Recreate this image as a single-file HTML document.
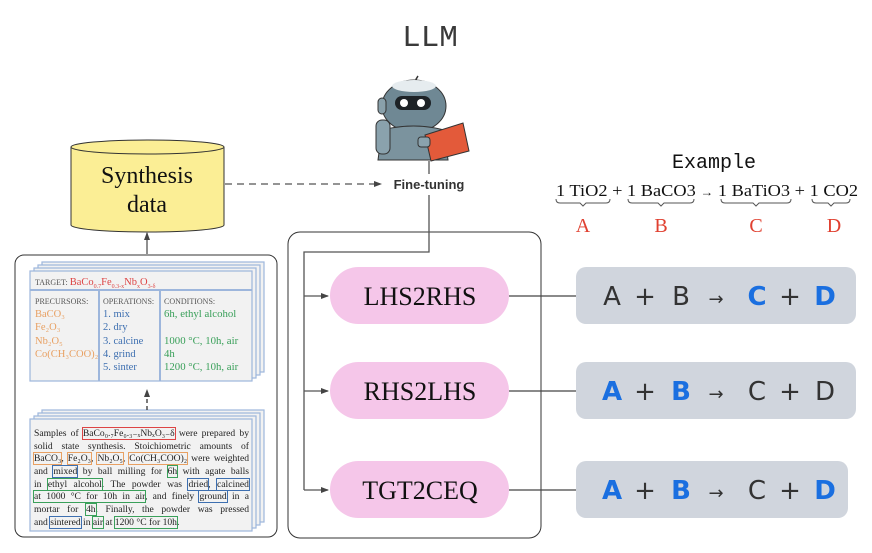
<!DOCTYPE html>
<html><head><meta charset="utf-8"><style>
body{margin:0;background:#fff;position:relative;width:872px;height:553px;overflow:hidden}
svg{display:block;position:absolute;left:0;top:0}
.ln{position:absolute;left:34px;width:215px;font-family:"Liberation Serif",serif;font-size:9.6px;line-height:12.7px;color:#222;text-align:justify;text-align-last:justify;white-space:nowrap}
.ln div{height:12.7px}
.r{outline:1px solid #d44;}
.o{outline:1px solid #e8a062;}
.b{outline:1px solid #3d6fb0;}
.g{outline:1px solid #3aa05a;}
.tc{position:absolute;font-family:"Liberation Serif",serif;font-size:10.5px;line-height:13.2px}
.h{font-size:8px;color:#555}
</style></head><body>
<svg width="872" height="553" viewBox="0 0 872 553" xmlns="http://www.w3.org/2000/svg">
<defs>
<marker id="ar" markerWidth="8" markerHeight="8" refX="7" refY="4" orient="auto" markerUnits="userSpaceOnUse"><path d="M0,1 L8,4 L0,7 z" fill="#444"/></marker>
</defs>
<text x="430" y="46" text-anchor="middle" font-family="Liberation Mono, monospace" font-size="31" fill="#3a3a3a">LLM</text>
<g>
<path d="M418,76 q-4,5 -3,14" stroke="#333" fill="none" stroke-width="1.5"/>
<ellipse cx="414" cy="106" rx="32" ry="26" fill="#6f8894" stroke="#333"/>
<ellipse cx="414" cy="86" rx="22" ry="6" fill="#e6ecef"/>
<rect x="378" y="98" width="8" height="16" rx="4" fill="#89a0aa" stroke="#333"/>
<rect x="395" y="96" width="36" height="14" rx="7" fill="#1d2226"/>
<circle cx="404" cy="103" r="4" fill="#fff"/><circle cx="421" cy="103" r="4" fill="#fff"/>
<path d="M382,130 q32,-8 62,0 l4,30 h-70 z" fill="#7b939e" stroke="#333"/>
<rect x="376" y="120" width="14" height="34" rx="6" fill="#8aa2ad" stroke="#333"/>
<path d="M425,135 l38,-12 l6,28 l-38,10 z" fill="#e35a3a" stroke="#333"/>
<rect x="418" y="137" width="12" height="10" rx="3" fill="#8aa2ad" stroke="#333"/>
</g>
<line x1="429" y1="161" x2="429" y2="174" stroke="#555" stroke-width="1.3"/>
<text x="429" y="189" text-anchor="middle" font-family="Liberation Sans, sans-serif" font-weight="bold" font-size="13" fill="#333">Fine-tuning</text>
<line x1="225" y1="184" x2="381" y2="184" stroke="#555" stroke-width="1.3" stroke-dasharray="7,5" marker-end="url(#ar)"/>
<path d="M71,147 v78 a76.5,7 0 0 0 153,0 v-78" fill="#fbee95" stroke="#333"/>
<ellipse cx="147.5" cy="147" rx="76.5" ry="7" fill="#fbee95" stroke="#333"/>
<text x="147" y="183" text-anchor="middle" font-family="Liberation Serif, serif" font-size="24" fill="#111">Synthesis</text>
<text x="147" y="212" text-anchor="middle" font-family="Liberation Serif, serif" font-size="24" fill="#111">data</text>
<line x1="147" y1="254" x2="147" y2="233" stroke="#555" stroke-width="1.3" marker-end="url(#ar)"/>
<rect x="15" y="255" width="262" height="282" rx="9" fill="#fff" stroke="#333"/>
<g fill="#f2f2f2" stroke="#9db6dc" stroke-width="1.2">
<rect x="42" y="262" width="222" height="110"/><rect x="38" y="265" width="222" height="110"/><rect x="34" y="268" width="222" height="110"/><rect x="30" y="271" width="222" height="110"/>
<rect x="42" y="410" width="222" height="112"/><rect x="38" y="413" width="222" height="112"/><rect x="34" y="416" width="222" height="112"/><rect x="30" y="419" width="222" height="112"/>
</g>
<line x1="30" y1="290" x2="252" y2="290" stroke="#9db6dc" stroke-width="2"/>
<line x1="99" y1="290" x2="99" y2="381" stroke="#9db6dc" stroke-width="2"/>
<line x1="160" y1="290" x2="160" y2="381" stroke="#9db6dc" stroke-width="2"/>
<line x1="147" y1="410" x2="147" y2="390" stroke="#333" stroke-width="1.3" stroke-dasharray="4,3" marker-end="url(#ar)"/>
<rect x="288" y="232" width="253" height="306" rx="12" fill="none" stroke="#333"/>
<polyline points="429,195 429,252 304,252 304,490" fill="none" stroke="#555" stroke-width="1.3"/>
<line x1="304" y1="296" x2="328" y2="296" stroke="#555" stroke-width="1.3" marker-end="url(#ar)"/>
<line x1="304" y1="391" x2="328" y2="391" stroke="#555" stroke-width="1.3" marker-end="url(#ar)"/>
<line x1="304" y1="490" x2="328" y2="490" stroke="#555" stroke-width="1.3" marker-end="url(#ar)"/>
<g fill="#f5c6e9">
<rect x="330" y="267" width="179" height="57" rx="28.5"/>
<rect x="330" y="362" width="179" height="57" rx="28.5"/>
<rect x="330" y="461" width="179" height="57" rx="28.5"/>
</g>
<g font-family="Liberation Serif, serif" font-size="26" fill="#111" text-anchor="middle">
<text x="420" y="305">LHS2RHS</text><text x="420" y="400">RHS2LHS</text><text x="420" y="499">TGT2CEQ</text>
</g>
<g stroke="#444" stroke-width="1.3">
<line x1="509" y1="296" x2="576" y2="296"/><line x1="509" y1="391" x2="576" y2="391"/><line x1="509" y1="490" x2="576" y2="490"/>
</g>
<g fill="#d0d5dd">
<rect x="576" y="267" width="280" height="57" rx="10"/>
<rect x="576" y="362" width="280" height="57" rx="10"/>
<rect x="576" y="461" width="272" height="57" rx="10"/>
</g>
<g font-family="DejaVu Sans, sans-serif" font-size="26" text-anchor="middle">
<g transform="translate(0,305)"><text x="612" fill="#333">A</text><text x="645" fill="#333">+</text><text x="681" fill="#333">B</text><text x="716" fill="#333" font-size="18">→</text><text x="757" fill="#1a6fe0" font-weight="bold">C</text><text x="790" fill="#333">+</text><text x="825" fill="#1a6fe0" font-weight="bold">D</text></g>
<g transform="translate(0,400)"><text x="612" fill="#1a6fe0" font-weight="bold">A</text><text x="645" fill="#333">+</text><text x="681" fill="#1a6fe0" font-weight="bold">B</text><text x="716" fill="#333" font-size="18">→</text><text x="757" fill="#333">C</text><text x="790" fill="#333">+</text><text x="825" fill="#333">D</text></g>
<g transform="translate(0,499)"><text x="612" fill="#1a6fe0" font-weight="bold">A</text><text x="645" fill="#333">+</text><text x="681" fill="#1a6fe0" font-weight="bold">B</text><text x="716" fill="#333" font-size="18">→</text><text x="757" fill="#333">C</text><text x="790" fill="#333">+</text><text x="825" fill="#1a6fe0" font-weight="bold">D</text></g>
</g>
<text x="714" y="168" text-anchor="middle" font-family="Liberation Mono, monospace" font-size="20" fill="#111">Example</text>
<text x="556" y="196" textLength="302" lengthAdjust="spacingAndGlyphs" font-family="Liberation Serif, serif" font-size="17" fill="#111">1 TiO2 + 1 BaCO3 <tspan font-size="12">→</tspan> 1 BaTiO3 + 1 CO2</text>
<g fill="none" stroke="#555" stroke-width="1">
<path d="M556,199 q0,4 4,4 h20 l3,3 l3,-3 h20 q4,0 4,-4"/>
<path d="M628,199 q0,4 4,4 h26 l3,3 l3,-3 h26 q4,0 4,-4"/>
<path d="M721,199 q0,4 4,4 h28 l3,3 l3,-3 h28 q4,0 4,-4"/>
<path d="M812,199 q0,4 4,4 h12 l3,3 l3,-3 h12 q4,0 4,-4"/>
</g>
<g font-family="Liberation Serif, serif" font-size="20" fill="#e04030" text-anchor="middle">
<text x="583" y="232">A</text><text x="661" y="232">B</text><text x="756" y="232">C</text><text x="834" y="232">D</text>
</g>
</svg>
<div class="tc" style="left:35px;top:276px;font-size:8px;color:#555">TARGET: <span style="color:#d44;font-size:10.5px">BaCo<sub style="font-size:6px">0.7</sub>Fe<sub style="font-size:6px">0.3-x</sub>Nb<sub style="font-size:6px">x</sub>O<sub style="font-size:6px">3-δ</sub></span></div>
<div class="tc" style="left:35px;top:295px;color:#e8a062"><div class="h">PRECURSORS:</div>BaCO₃<br>Fe₂O₃<br>Nb₂O₅<br>Co(CH₃COO)₂</div>
<div class="tc" style="left:103px;top:295px;color:#3d6fb0"><div class="h">OPERATIONS:</div>1. mix<br>2. dry<br>3. calcine<br>4. grind<br>5. sinter</div>
<div class="tc" style="left:164px;top:295px;color:#3aa05a;font-size:10.8px"><div class="h">CONDITIONS:</div>6h, ethyl alcohol<br>&nbsp;<br>1000 °C, 10h, air<br>4h<br>1200 °C, 10h, air</div>
<div class="ln" style="top:428px">
<div>Samples of <span class="r">BaCo₀.₇Fe₀.₃₋ₓNbₓO₃₋δ</span> were prepared by</div>
<div>solid state synthesis. Stoichiometric amounts of</div>
<div><span class="o">BaCO₃</span>, <span class="o">Fe₂O₃</span>, <span class="o">Nb₂O₅</span>, <span class="o">Co(CH₃COO)₂</span> were weighted</div>
<div>and <span class="b">mixed</span> by ball milling for <span class="g">6h</span> with agate balls</div>
<div>in <span class="g">ethyl alcohol</span>. The powder was <span class="b">dried</span>, <span class="b">calcined</span></div>
<div><span class="g">at 1000 °C for 10h in air</span>, and finely <span class="b">ground</span> in a</div>
<div>mortar for <span class="g">4h</span>. Finally, the powder was pressed</div>
<div style="text-align-last:left">and <span class="b">sintered</span> in <span class="g">air</span> at <span class="g">1200 °C for 10h</span>.</div>
</div>
</body></html>
